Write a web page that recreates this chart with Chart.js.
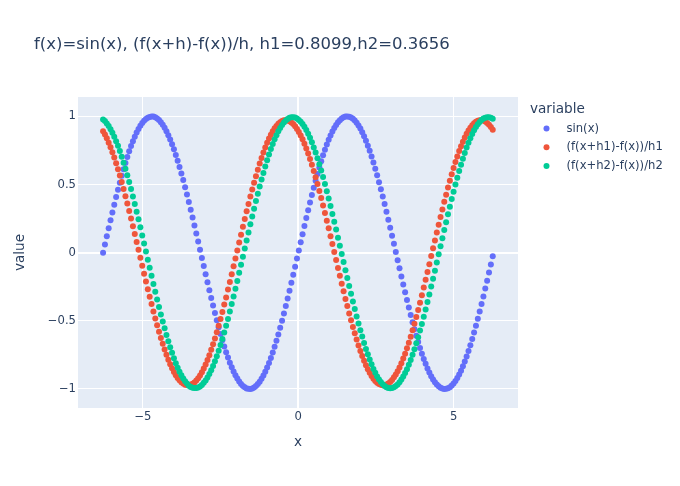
<!DOCTYPE html>
<html>
<head>
<meta charset="utf-8">
<script src="https://cdn.jsdelivr.net/npm/chart.js@4.4.1/dist/chart.umd.min.js"></script>
<style>
  body { margin: 0; background: #fff; }
  #chart { display: block; }
</style>
</head>
<body>
<canvas id="chart" width="680" height="486" style="width:680px;height:486px"></canvas>
<script>
// x samples (step 0.06 from -2*pi)
const xs = [
  -6.283, -6.223, -6.163, -6.103, -6.043, -5.983, -5.923, -5.863, -5.803, -5.743,
  -5.683, -5.623, -5.563, -5.503, -5.443, -5.383, -5.323, -5.263, -5.203, -5.143,
  -5.083, -5.023, -4.963, -4.903, -4.843, -4.783, -4.723, -4.663, -4.603, -4.543,
  -4.483, -4.423, -4.363, -4.303, -4.243, -4.183, -4.123, -4.063, -4.003, -3.943,
  -3.883, -3.823, -3.763, -3.703, -3.643, -3.583, -3.523, -3.463, -3.403, -3.343,
  -3.283, -3.223, -3.163, -3.103, -3.043, -2.983, -2.923, -2.863, -2.803, -2.743,
  -2.683, -2.623, -2.563, -2.503, -2.443, -2.383, -2.323, -2.263, -2.203, -2.143,
  -2.083, -2.023, -1.963, -1.903, -1.843, -1.783, -1.723, -1.663, -1.603, -1.543,
  -1.483, -1.423, -1.363, -1.303, -1.243, -1.183, -1.123, -1.063, -1.003, -0.943,
  -0.883, -0.823, -0.763, -0.703, -0.643, -0.583, -0.523, -0.463, -0.403, -0.343,
  -0.283, -0.223, -0.163, -0.103, -0.043, 0.017, 0.077, 0.137, 0.197, 0.257,
  0.317, 0.377, 0.437, 0.497, 0.557, 0.617, 0.677, 0.737, 0.797, 0.857,
  0.917, 0.977, 1.037, 1.097, 1.157, 1.217, 1.277, 1.337, 1.397, 1.457,
  1.517, 1.577, 1.637, 1.697, 1.757, 1.817, 1.877, 1.937, 1.997, 2.057,
  2.117, 2.177, 2.237, 2.297, 2.357, 2.417, 2.477, 2.537, 2.597, 2.657,
  2.717, 2.777, 2.837, 2.897, 2.957, 3.017, 3.077, 3.137, 3.197, 3.257,
  3.317, 3.377, 3.437, 3.497, 3.557, 3.617, 3.677, 3.737, 3.797, 3.857,
  3.917, 3.977, 4.037, 4.097, 4.157, 4.217, 4.277, 4.337, 4.397, 4.457,
  4.517, 4.577, 4.637, 4.697, 4.757, 4.817, 4.877, 4.937, 4.997, 5.057,
  5.117, 5.177, 5.237, 5.297, 5.357, 5.417, 5.477, 5.537, 5.597, 5.657,
  5.717, 5.777, 5.837, 5.897, 5.957, 6.017, 6.077, 6.137, 6.197, 6.257
];

const sinY = [
  0.000, 0.060, 0.120, 0.179, 0.238, 0.296, 0.352, 0.408, 0.462, 0.514,
  0.565, 0.613, 0.659, 0.703, 0.745, 0.783, 0.819, 0.852, 0.882, 0.909,
  0.932, 0.952, 0.969, 0.982, 0.991, 0.997, 1.000, 0.999, 0.994, 0.986,
  0.974, 0.958, 0.940, 0.917, 0.892, 0.863, 0.831, 0.797, 0.759, 0.718,
  0.675, 0.630, 0.582, 0.533, 0.481, 0.427, 0.372, 0.316, 0.259, 0.200,
  0.141, 0.082, 0.022, -0.038, -0.098, -0.158, -0.217, -0.275, -0.332, -0.388,
  -0.443, -0.496, -0.547, -0.596, -0.643, -0.688, -0.730, -0.770, -0.807, -0.841,
  -0.872, -0.899, -0.924, -0.945, -0.963, -0.978, -0.988, -0.996, -0.999, -1.000,
  -0.996, -0.989, -0.979, -0.964, -0.947, -0.926, -0.901, -0.874, -0.843, -0.809,
  -0.773, -0.733, -0.691, -0.647, -0.600, -0.551, -0.500, -0.447, -0.392, -0.337,
  -0.279, -0.221, -0.162, -0.103, -0.043, 0.017, 0.077, 0.136, 0.196, 0.254,
  0.312, 0.368, 0.423, 0.477, 0.528, 0.578, 0.626, 0.672, 0.715, 0.756,
  0.794, 0.829, 0.861, 0.890, 0.916, 0.938, 0.957, 0.973, 0.985, 0.994,
  0.999, 1.000, 0.998, 0.992, 0.983, 0.970, 0.954, 0.934, 0.911, 0.884,
  0.855, 0.822, 0.786, 0.748, 0.707, 0.663, 0.617, 0.569, 0.518, 0.466,
  0.412, 0.357, 0.300, 0.242, 0.184, 0.124, 0.065, 0.005, -0.055, -0.115,
  -0.174, -0.233, -0.291, -0.348, -0.403, -0.458, -0.510, -0.561, -0.609, -0.656,
  -0.700, -0.741, -0.780, -0.816, -0.850, -0.880, -0.907, -0.930, -0.951, -0.968,
  -0.981, -0.991, -0.997, -1.000, -0.999, -0.995, -0.987, -0.975, -0.960, -0.941,
  -0.919, -0.894, -0.866, -0.834, -0.799, -0.762, -0.722, -0.679, -0.634, -0.586,
  -0.537, -0.485, -0.432, -0.377, -0.321, -0.263, -0.205, -0.146, -0.086, -0.026
];

// (f(x+h1)-f(x))/h1, h1 = 0.8099
const dq1Y = [
  0.892, 0.868, 0.840, 0.808, 0.775, 0.738, 0.699, 0.657, 0.613, 0.566,
  0.519, 0.468, 0.415, 0.362, 0.307, 0.252, 0.195, 0.137, 0.079, 0.021,
  -0.037, -0.095, -0.154, -0.211, -0.268, -0.323, -0.377, -0.431, -0.483, -0.532,
  -0.580, -0.626, -0.669, -0.710, -0.749, -0.785, -0.818, -0.848, -0.875, -0.899,
  -0.919, -0.937, -0.951, -0.961, -0.969, -0.972, -0.973, -0.969, -0.962, -0.952,
  -0.938, -0.921, -0.901, -0.877, -0.850, -0.820, -0.787, -0.752, -0.713, -0.672,
  -0.629, -0.584, -0.536, -0.486, -0.435, -0.381, -0.328, -0.271, -0.215, -0.158,
  -0.100, -0.042, 0.017, 0.075, 0.132, 0.191, 0.247, 0.304, 0.358, 0.412,
  0.464, 0.514, 0.562, 0.609, 0.654, 0.696, 0.736, 0.772, 0.807, 0.838,
  0.866, 0.891, 0.913, 0.931, 0.947, 0.958, 0.967, 0.972, 0.973, 0.971,
  0.965, 0.956, 0.944, 0.928, 0.909, 0.886, 0.860, 0.832, 0.800, 0.765,
  0.728, 0.688, 0.645, 0.600, 0.554, 0.504, 0.453, 0.401, 0.347, 0.292,
  0.235, 0.179, 0.121, 0.063, 0.005, -0.054, -0.112, -0.169, -0.227, -0.283,
  -0.339, -0.392, -0.446, -0.496, -0.546, -0.592, -0.638, -0.681, -0.721, -0.759,
  -0.794, -0.827, -0.856, -0.882, -0.905, -0.925, -0.942, -0.954, -0.964, -0.970,
  -0.973, -0.972, -0.968, -0.960, -0.949, -0.934, -0.915, -0.894, -0.870, -0.843,
  -0.811, -0.777, -0.741, -0.702, -0.661, -0.617, -0.570, -0.522, -0.472, -0.420,
  -0.367, -0.312, -0.256, -0.199, -0.142, -0.084, -0.025, 0.033, 0.090, 0.149,
  0.206, 0.263, 0.318, 0.374, 0.426, 0.478, 0.528, 0.576, 0.622, 0.665,
  0.707, 0.746, 0.782, 0.815, 0.845, 0.873, 0.897, 0.918, 0.936, 0.951,
  0.961, 0.968, 0.972, 0.973, 0.970, 0.963, 0.953, 0.940, 0.922, 0.903
];

// (f(x+h2)-f(x))/h2, h2 = 0.3656
const dq2Y = [
  0.978, 0.966, 0.949, 0.930, 0.907, 0.881, 0.851, 0.819, 0.785, 0.746,
  0.705, 0.661, 0.616, 0.568, 0.519, 0.467, 0.412, 0.357, 0.301, 0.245,
  0.186, 0.127, 0.068, 0.008, -0.051, -0.111, -0.170, -0.229, -0.287, -0.343,
  -0.398, -0.453, -0.505, -0.555, -0.604, -0.650, -0.694, -0.735, -0.774, -0.811,
  -0.844, -0.874, -0.900, -0.924, -0.944, -0.961, -0.976, -0.985, -0.992, -0.994,
  -0.994, -0.989, -0.982, -0.971, -0.955, -0.938, -0.916, -0.890, -0.863, -0.831,
  -0.797, -0.760, -0.720, -0.677, -0.633, -0.586, -0.537, -0.486, -0.432, -0.377,
  -0.322, -0.265, -0.207, -0.148, -0.089, -0.029, 0.030, 0.090, 0.149, 0.208,
  0.266, 0.323, 0.379, 0.433, 0.486, 0.537, 0.586, 0.633, 0.678, 0.721,
  0.761, 0.798, 0.832, 0.863, 0.891, 0.916, 0.938, 0.956, 0.971, 0.982,
  0.990, 0.994, 0.994, 0.992, 0.985, 0.975, 0.961, 0.945, 0.924, 0.900,
  0.873, 0.843, 0.810, 0.773, 0.735, 0.694, 0.649, 0.603, 0.555, 0.504,
  0.452, 0.397, 0.342, 0.285, 0.228, 0.170, 0.110, 0.051, -0.009, -0.068,
  -0.128, -0.186, -0.245, -0.302, -0.359, -0.413, -0.468, -0.519, -0.569, -0.616,
  -0.663, -0.706, -0.746, -0.784, -0.819, -0.853, -0.882, -0.908, -0.930, -0.950,
  -0.966, -0.978, -0.987, -0.993, -0.995, -0.993, -0.988, -0.979, -0.967, -0.951,
  -0.931, -0.909, -0.883, -0.855, -0.822, -0.787, -0.749, -0.709, -0.665, -0.620,
  -0.572, -0.523, -0.471, -0.417, -0.362, -0.306, -0.249, -0.191, -0.132, -0.072,
  -0.012, 0.047, 0.106, 0.166, 0.224, 0.282, 0.338, 0.394, 0.448, 0.500,
  0.551, 0.600, 0.646, 0.690, 0.732, 0.772, 0.808, 0.841, 0.871, 0.898,
  0.922, 0.943, 0.960, 0.975, 0.985, 0.991, 0.994, 0.994, 0.990, 0.983
];

const seriesNames = ['sin(x)', '(f(x+h1)-f(x))/h1', '(f(x+h2)-f(x))/h2'];
const seriesColors = ['#636efa', '#EF553B', '#00cc96'];
const xTicks = [-5, 0, 5];
const yTicks = [-1, -0.5, 0, 0.5, 1];
const chartTitle = 'f(x)=sin(x), (f(x+h)-f(x))/h, h1=0.8099,h2=0.3656';
const legendTitle = 'variable';

const FONT = "'DejaVu Sans', verdana, arial, sans-serif";
const TEXT = '#2a3f5f';

function fmtTick(v) {
  return v < 0 ? '\u2212' + Math.abs(v) : String(v);
}

const allY = [sinY, dq1Y, dq2Y];
const datasets = allY.map((ys, i) => ({
  label: seriesNames[i],
  data: xs.map((x, j) => ({ x: x, y: ys[j] })),
  backgroundColor: seriesColors[i],
  borderWidth: 0,
  pointRadius: 3,
  pointHoverRadius: 3,
  pointBorderWidth: 0,
  showLine: false,
  order: allY.length - i
}));

// plot area background
const plotBg = {
  id: 'plotBg',
  beforeDraw(chart) {
    const { ctx, chartArea: a } = chart;
    ctx.save();
    ctx.fillStyle = '#E5ECF6';
    ctx.fillRect(a.left, a.top, a.right - a.left, a.bottom - a.top);
    ctx.restore();
  }
};

// title and legend drawn like plotly
const annotations = {
  id: 'annotations',
  afterDraw(chart) {
    const ctx = chart.ctx;
    ctx.save();
    ctx.fillStyle = TEXT;
    ctx.textAlign = 'left';
    ctx.textBaseline = 'alphabetic';
    ctx.font = '16.5px ' + FONT;
    ctx.fillText(chartTitle, 34, 49);

    ctx.font = '13.6px ' + FONT;
    ctx.fillText(legendTitle, 530, 113);

    ctx.font = '11.6px ' + FONT;
    ctx.textBaseline = 'middle';
    seriesNames.forEach((name, i) => {
      const y = 128.5 + i * 18.7;
      ctx.fillStyle = seriesColors[i];
      ctx.beginPath();
      ctx.arc(546.5, y, 3, 0, Math.PI * 2);
      ctx.fill();
      ctx.fillStyle = TEXT;
      ctx.fillText(name, 566.5, y);
    });
    ctx.restore();
  }
};

const gridWidth = (c) => (c.tick && c.tick.value === 0 ? 2 : 1);

new Chart(document.getElementById('chart').getContext('2d'), {
  type: 'scatter',
  data: { datasets: datasets },
  plugins: [plotBg, annotations],
  options: {
    responsive: false,
    animation: false,
    events: [],
    layout: { padding: { top: 97, right: 162, bottom: 0, left: 0 } },
    plugins: {
      legend: { display: false },
      tooltip: { enabled: false },
      title: { display: false }
    },
    scales: {
      x: {
        type: 'linear',
        min: -7.09,
        max: 7.07,
        afterBuildTicks: (s) => { s.ticks = xTicks.map(v => ({ value: v })); },
        afterFit: (s) => { s.height = 78; },
        border: { display: false },
        grid: { color: '#ffffff', lineWidth: gridWidth, drawTicks: false },
        ticks: {
          color: TEXT,
          font: { family: FONT, size: 11.6 },
          padding: 2,
          maxRotation: 0,
          callback: (v) => fmtTick(v)
        },
        title: {
          display: true,
          text: 'x',
          color: TEXT,
          font: { family: FONT, size: 13.6 },
          padding: { top: 0, bottom: 35 }
        }
      },
      y: {
        type: 'linear',
        min: -1.14,
        max: 1.143,
        afterBuildTicks: (s) => { s.ticks = yTicks.map(v => ({ value: v })); },
        afterFit: (s) => { s.width = 78; },
        border: { display: false },
        grid: { color: '#ffffff', lineWidth: gridWidth, drawTicks: false },
        ticks: {
          color: TEXT,
          font: { family: FONT, size: 11.6 },
          padding: 2,
          callback: (v) => fmtTick(v)
        },
        title: {
          display: true,
          text: 'value',
          color: TEXT,
          font: { family: FONT, size: 13.6 },
          padding: { top: 12, bottom: 0 }
        }
      }
    }
  }
});
</script>
</body>
</html>
